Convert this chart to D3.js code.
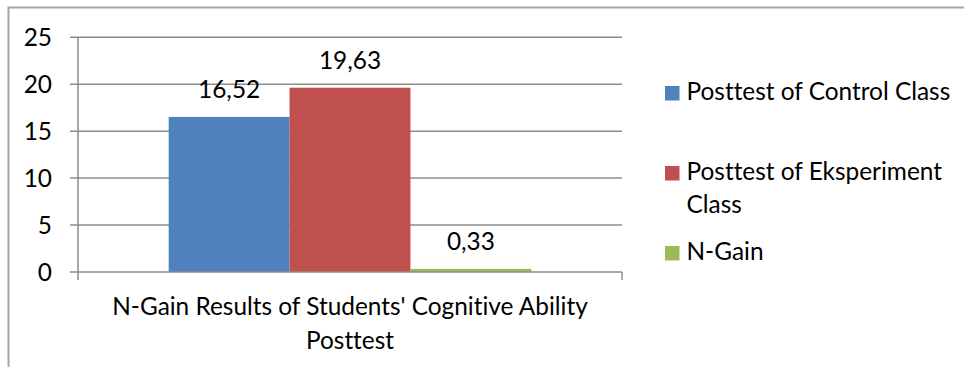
<!DOCTYPE html>
<html>
<head>
<meta charset="utf-8">
<script src="https://cdn.jsdelivr.net/npm/d3@7"></script>
<style>
  html, body { margin: 0; padding: 0; background: #fff; }
  svg { display: block; }
  text { font-family: Lato, "Open Sans", sans-serif; fill: #000; font-variant-ligatures: none; font-feature-settings: "liga" 0, "clig" 0, "dlig" 0; }
</style>
</head>
<body>
<svg id="chart" width="964" height="367"></svg>
<script>
const categories = ["N-Gain Results of Students' Cognitive Ability Posttest"];
const categoryLines = [["N-Gain Results of Students' Cognitive Ability", "Posttest"]];
const seriesNames = ["Posttest of Control Class", "Posttest of Eksperiment Class", "N-Gain"];
const seriesValues = [16.52, 19.63, 0.33];
const valueLabels = ["16,52", "19,63", "0,33"];
const seriesColors = ["#4F81BD", "#C0504D", "#9BBB59"];
const yTicks = [0, 5, 10, 15, 20, 25];
const legendLines = [["Posttest of Control Class"], ["Posttest of Eksperiment", "Class"], ["N-Gain"]];

const svg = d3.select("#chart");
const fontSize = 24.4;

// outer border
svg.append("path")
  .attr("d", "M8.5,367 L8.5,7.5 L964,7.5")
  .attr("fill", "none").attr("stroke", "#a6a6a6").attr("stroke-width", 2);

const plot = { left: 78, right: 622, top: 37.3, bottom: 272 };

const y = d3.scaleLinear().domain([0, 25]).range([plot.bottom, plot.top]);
const x0 = d3.scaleBand().domain(categories).range([plot.left, plot.right]).paddingInner(0).paddingOuter(0);
const x1 = d3.scaleBand().domain(seriesNames).range([0, x0.bandwidth()]).paddingInner(0).paddingOuter(0.75);

// gridlines (with tick stubs)
svg.append("g").selectAll("line").data(yTicks.filter(d => d > 0)).join("line")
  .attr("x1", plot.left - 8).attr("x2", plot.right)
  .attr("y1", d => y(d)).attr("y2", d => y(d))
  .attr("stroke", "#8c8c8c").attr("stroke-width", 1.5);

// y axis labels
svg.append("g").selectAll("text").data(yTicks).join("text")
  .attr("x", 52).attr("y", d => y(d)).attr("dy", "0.35em")
  .attr("text-anchor", "end").attr("font-size", fontSize)
  .text(d => d);

// bars
const g = svg.append("g").attr("transform", `translate(${x0(categories[0])},0)`);
g.selectAll("rect").data(seriesValues).join("rect")
  .attr("x", (d, i) => x1(seriesNames[i]))
  .attr("width", x1.bandwidth())
  .attr("y", d => y(d))
  .attr("height", d => y(0) - y(d))
  .attr("fill", (d, i) => seriesColors[i]);

// value labels
g.selectAll("text.val").data(seriesValues).join("text")
  .attr("class", "val")
  .attr("x", (d, i) => x1(seriesNames[i]) + x1.bandwidth() / 2)
  .attr("y", d => y(d) - 19)
  .attr("text-anchor", "middle").attr("font-size", fontSize)
  .text((d, i) => valueLabels[i]);

// axes lines
svg.append("line").attr("x1", plot.left).attr("x2", plot.left)
  .attr("y1", plot.top).attr("y2", plot.bottom + 8)
  .attr("stroke", "#8c8c8c").attr("stroke-width", 1.5);
svg.append("line").attr("x1", plot.left - 8).attr("x2", plot.right)
  .attr("y1", plot.bottom).attr("y2", plot.bottom)
  .attr("stroke", "#8c8c8c").attr("stroke-width", 1.5);
svg.append("line").attr("x1", plot.right).attr("x2", plot.right)
  .attr("y1", plot.bottom).attr("y2", plot.bottom + 8)
  .attr("stroke", "#8c8c8c").attr("stroke-width", 1.5);

// category label
const cat = svg.append("text").attr("text-anchor", "middle").attr("font-size", fontSize);
categoryLines[0].forEach((line, i) => {
  cat.append("tspan").attr("x", x0(categories[0]) + x0.bandwidth() / 2)
    .attr("y", 315 + i * 33.5).text(line);
});

// legend
const legendY = [100, 180, 260];
const lg = svg.append("g");
legendLines.forEach((lines, i) => {
  lg.append("rect").attr("x", 665).attr("y", legendY[i] - 14).attr("width", 14.5).attr("height", 14.5)
    .attr("fill", seriesColors[i]);
  const t = lg.append("text").attr("font-size", fontSize);
  lines.forEach((line, j) => {
    t.append("tspan").attr("x", 686.5).attr("y", legendY[i] + j * 32.7).text(line);
  });
});
</script>
</body>
</html>
